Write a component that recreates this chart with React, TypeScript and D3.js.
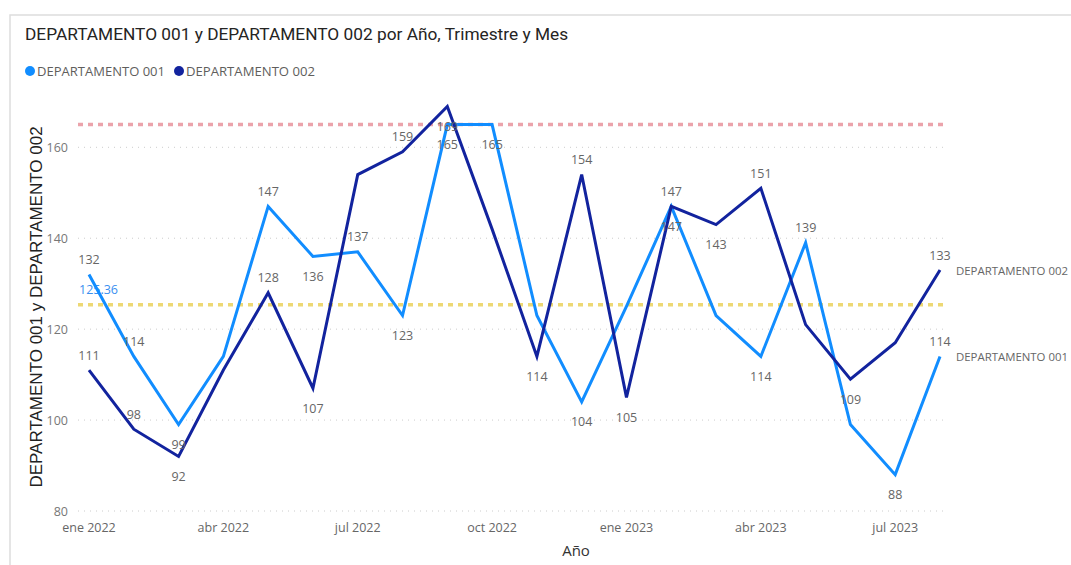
import React from "react";
import * as d3 from "d3";

const months = ["ene 2022","feb 2022","mar 2022","abr 2022","may 2022","jun 2022","jul 2022","ago 2022","sep 2022","oct 2022","nov 2022","dic 2022","ene 2023","feb 2023","mar 2023","abr 2023","may 2023","jun 2023","jul 2023","ago 2023"];
const dept001 = [132,114,99,114,147,136,137,123,165,165,123,104,125,147,123,114,139,99,88,114];
const dept002 = [111,98,92,111,128,107,154,159,169,142,114,154,105,147,143,151,121,109,117,133];
// a = label above, b = below, "" = hidden (as in the reference)
const labels001 = ["a","a","b","","a","b","a","b","b","b","","b","","b","","b","a","","b","a"];
const labels002 = ["a","a","b","","a","b","","a","b","","b","a","b","a","b","a","","b","","a"];
const xTicks = ["ene 2022","abr 2022","jul 2022","oct 2022","ene 2023","abr 2023","jul 2023"];
const yTicks = [80,100,120,140,160];
const maxLine = 165;
const avgLine = 125.36;

const C1 = "#118DFF";
const C2 = "#12239E";
const FONT = "'Segoe UI', 'Open Sans', Roboto, sans-serif";

export default function App() {
  const W = 1071, H = 565;
  const x = d3.scalePoint<string>().domain(months).range([89, 940]);
  const y = d3.scaleLinear().domain([80, 160]).range([511, 147.3]);
  const line = d3.line<number>().x((_, i) => x(months[i])!).y(d => y(d));
  const gx0 = 78, gx1 = 947;

  const renderLabels = (vals: number[], pos: string[], key: string) =>
    vals.map((v, i) => pos[i] ? (
      <text key={key + i} x={x(months[i])} y={y(v) + (pos[i] === "a" ? -15 : 20)}
        textAnchor="middle" dominantBaseline="central" fontSize={12.5} fill="#666" fontFamily={FONT}>{v}</text>
    ) : null);

  return (
    <svg width={W} height={H} style={{ position: "absolute", left: 0, top: 0, background: "#fff" }}>
      <rect x={10} y={15} width={W} height={H} fill="none" stroke="#ddd" strokeWidth={1.5} />
      <text x={25} y={34} dominantBaseline="central" fontSize={17.3} fill="#252423" fontFamily="Roboto, 'DejaVu Sans', sans-serif">DEPARTAMENTO 001 y DEPARTAMENTO 002 por Año, Trimestre y Mes</text>
      <circle cx={30} cy={71} r={5} fill={C1} />
      <text x={37} y={71} dominantBaseline="central" fontSize={12.5} fill="#605E5C" fontFamily={FONT} textLength={128} lengthAdjust="spacingAndGlyphs">DEPARTAMENTO 001</text>
      <circle cx={179} cy={71} r={5} fill={C2} />
      <text x={186} y={71} dominantBaseline="central" fontSize={12.5} fill="#605E5C" fontFamily={FONT} textLength={129} lengthAdjust="spacingAndGlyphs">DEPARTAMENTO 002</text>

      {yTicks.map(t => (
        <g key={t}>
          <line x1={gx0} x2={gx1} y1={y(t)} y2={y(t)} stroke="#ccc" strokeWidth={1} strokeDasharray="1,5" />
          <text x={68} y={y(t)} textAnchor="end" dominantBaseline="central" fontSize={12.5} fill="#777" fontFamily={FONT}>{t}</text>
        </g>
      ))}
      {xTicks.map(t => (
        <text key={t} x={x(t)} y={527} textAnchor="middle" dominantBaseline="central" fontSize={12.5} fill="#666" fontFamily={FONT}>{t}</text>
      ))}
      <text x={576} y={550} textAnchor="middle" dominantBaseline="central" fontSize={15} fill="#333" fontFamily={FONT}>Año</text>
      <text transform={`translate(36,307) rotate(-90)`} textAnchor="middle" dominantBaseline="central" fontSize={17} fill="#222" fontFamily="'Liberation Sans', Arial, sans-serif">DEPARTAMENTO 001 y DEPARTAMENTO 002</text>

      <line x1={gx0} x2={gx1} y1={y(maxLine)} y2={y(maxLine)} stroke="#EBA3AB" strokeWidth={3.5} strokeDasharray="5,5" />
      <line x1={gx0} x2={gx1} y1={y(avgLine)} y2={y(avgLine)} stroke="#EDD873" strokeWidth={3.5} strokeDasharray="5,5" />
      <text x={79} y={y(avgLine) - 15} dominantBaseline="central" fontSize={12.5} fill="#3A8FF0" fontFamily={FONT}>{avgLine.toFixed(2)}</text>

      <path d={line(dept001)!} fill="none" stroke={C1} strokeWidth={3} strokeLinejoin="miter" />
      <path d={line(dept002)!} fill="none" stroke={C2} strokeWidth={3} strokeLinejoin="miter" />

      {renderLabels(dept001, labels001, "a")}
      {renderLabels(dept002, labels002, "b")}

      <text x={956} y={y(dept002[dept002.length - 1])} dominantBaseline="central" fontSize={11.5} fill="#666" fontFamily={FONT} textLength={112} lengthAdjust="spacingAndGlyphs">DEPARTAMENTO 002</text>
      <text x={956} y={y(dept001[dept001.length - 1])} dominantBaseline="central" fontSize={11.5} fill="#666" fontFamily={FONT} textLength={112} lengthAdjust="spacingAndGlyphs">DEPARTAMENTO 001</text>
    </svg>
  );
}
